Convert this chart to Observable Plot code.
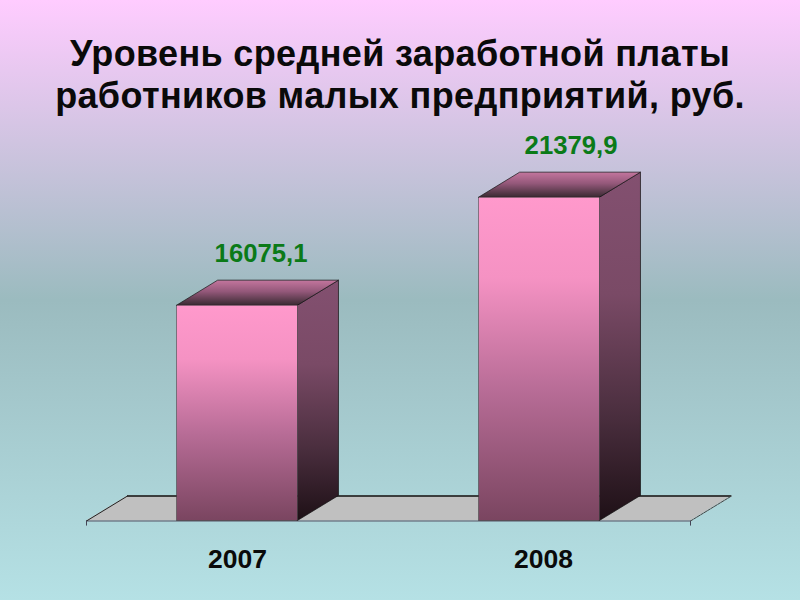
<!DOCTYPE html>
<html lang="ru">
<head>
<meta charset="utf-8">
<script src="https://cdn.jsdelivr.net/npm/d3@7"></script>
<script src="https://cdn.jsdelivr.net/npm/@observablehq/plot@0.6"></script>
<style>
html,body{margin:0;padding:0;width:800px;height:600px;overflow:hidden;}
body{background:linear-gradient(180deg,#FFCCFF 0%,#9BBBBF 50%,#B5E1E5 100%);font-family:"Liberation Sans",Arial,sans-serif;}
#title{height:130px;box-sizing:border-box;padding-top:33px;text-align:center;font-weight:bold;font-size:36px;line-height:42px;letter-spacing:0.36px;color:#0a0a0a;}
#chart svg{display:block;background:transparent;}
</style>
</head>
<body>
<div id="title">Уровень средней заработной платы<br>работников малых предприятий, руб.</div>
<div id="chart"></div>
<script>
const years = ["2007", "2008"];
const wages = [16075.1, 21379.9];
const wageLabels = ["16075,1", "21379,9"];
const positions = [0, 1];
const labelShifts = [3, 11];
const yearTicks = [0, 1.013];
const axisBase = 5500;
const axisTop = 24680;
const halfBar = 0.2;
const depthX = 0.136;
const depthY = 1230;

const bars = years.map((year, i) => ({
  year, value: wages[i], label: wageLabels[i], shift: labelShifts[i],
  x1: positions[i] - halfBar, x2: positions[i] + halfBar
}));

const floorLeft = -0.5, floorRight = 1.5;
const floorRows = [
  {y: axisBase, x1: floorLeft, x2: floorRight},
  {y: axisBase + depthY, x1: floorLeft + depthX, x2: floorRight + depthX}
];
const sideRows = bars.flatMap(b => [
  {year: b.year, x: b.x2, y1: axisBase, y2: b.value},
  {year: b.year, x: b.x2 + depthX, y1: axisBase + depthY, y2: b.value + depthY}
]);
const topRows = bars.flatMap(b => [
  {year: b.year, y: b.value, x1: b.x1, x2: b.x2},
  {year: b.year, y: b.value + depthY, x1: b.x1 + depthX, x2: b.x2 + depthX}
]);

const defs = () => d3.create("svg:g").html(`
  <defs>
    <linearGradient id="front" x1="0" y1="0" x2="0" y2="1">
      <stop offset="0" stop-color="#FF99CC"/><stop offset="0.25" stop-color="#F592C3"/>
      <stop offset="0.6" stop-color="#B76C96"/><stop offset="1" stop-color="#7A4560"/>
    </linearGradient>
    <linearGradient id="side" x1="0" y1="0" x2="0" y2="1">
      <stop offset="0" stop-color="#835070"/><stop offset="0.35" stop-color="#7A4A66"/>
      <stop offset="0.7" stop-color="#4A2E3E"/><stop offset="1" stop-color="#1E1016"/>
    </linearGradient>
    <linearGradient id="top" x1="0" y1="0" x2="0" y2="1">
      <stop offset="0" stop-color="#C4769E"/><stop offset="0.45" stop-color="#94587A"/>
      <stop offset="1" stop-color="#3A2A32"/>
    </linearGradient>
  </defs>`).node();

const plot = Plot.plot({
  width: 800,
  height: 470,
  marginLeft: 86,
  marginRight: 110,
  marginTop: 0,
  marginBottom: 79.5,
  style: {background: "transparent", overflow: "visible"},
  x: {type: "linear", domain: [floorLeft, floorRight], axis: null},
  y: {domain: [axisBase, axisTop], axis: null},
  marks: [
    defs,
    Plot.areaX(floorRows, {y: "y", x1: "x1", x2: "x2", fill: "#C0C0C0", curve: "linear"}),
    Plot.ruleY([axisBase + depthY], {x1: floorLeft + depthX, x2: floorRight + depthX, stroke: "#111", strokeWidth: 1.5}),
    Plot.ruleY([axisBase], {x1: floorLeft, x2: floorRight, stroke: "#556", strokeWidth: 1}),
    Plot.line([floorRows[0], floorRows[1]], {x: "x1", y: "y", stroke: "#222", strokeWidth: 1}),
    Plot.line([floorRows[0], floorRows[1]], {x: "x2", y: "y", stroke: "#444", strokeWidth: 1, strokeDasharray: "3 1"}),
    Plot.ruleX([floorLeft, floorRight], {y1: axisBase, y2: axisBase - 250, stroke: "#445", strokeWidth: 1}),
    Plot.areaY(sideRows, {x: "x", y1: "y1", y2: "y2", z: "year", fill: "url(#side)", stroke: "#111", strokeWidth: 0.7, curve: "linear"}),
    Plot.areaX(topRows, {y: "y", x1: "x1", x2: "x2", z: "year", fill: "url(#top)", stroke: "#111", strokeWidth: 0.7, curve: "linear"}),
    Plot.rect(bars, {x1: "x1", x2: "x2", y1: axisBase, y2: "value", fill: "url(#front)", stroke: "#333", strokeWidth: 0.5}),
    Plot.text(bars, {
      x: d => (d.x1 + d.x2 + depthX) / 2 + d.shift / 302, y: d => d.value + depthY, text: "label", dy: -27,
      fill: "#0B7A18", fontSize: 25.7, fontWeight: "bold", fontFamily: "Liberation Sans"
    }),
    Plot.axisX(yearTicks, {
      anchor: "bottom", tickSize: 0, tickPadding: 28, labelAnchor: "center", label: null,
      tickFormat: (v, i) => years[i], fontSize: 26.5, fontWeight: "bold", fontFamily: "Liberation Sans", fill: "#0a0a0a"
    })
  ]
});
document.getElementById("chart").appendChild(plot);
</script>
</body>
</html>
